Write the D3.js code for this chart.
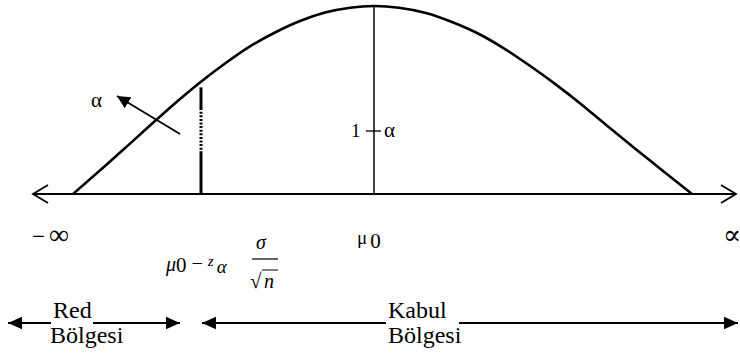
<!DOCTYPE html>
<html><head><meta charset="utf-8">
<script src="https://cdn.jsdelivr.net/npm/d3@7"></script>
<style>
html,body{margin:0;padding:0;background:#fff;}
svg{display:block;}
</style></head>
<body>
<svg id="c" width="740" height="356"></svg>
<script>
// ---- data ----
const curveX = [-3.01, -2.69, -2.50, -2.19, -1.94, -1.74, -1.49, -1.24, -0.99, -0.74, -0.49, -0.24, 0,
                0.25, 0.52, 0.78, 1.05, 1.31, 1.57, 1.84, 2.05, 2.31, 2.64, 2.84, 3.18];
const curveY = [0, 0.149, 0.239, 0.388, 0.505, 0.593, 0.694, 0.785, 0.859, 0.920, 0.965, 0.991, 1,
                0.991, 0.963, 0.915, 0.851, 0.771, 0.678, 0.574, 0.487, 0.372, 0.229, 0.144, 0];
const mu0 = 0;
const critical = -1.73;
const critTop = 0.567;
const dottedFrom = 0.457, dottedTo = 0.218;
const axisMin = -3.41, axisMax = 3.62;
const xTickLabels = ["\u2212", "\u221e", "\u03bc", "\u221d"];
const regionLabels = [["Red", "B\u00f6lgesi"], ["Kabul", "B\u00f6lgesi"]];
const alphaArrow = [[-1.94, 0.319], [-2.57, 0.521]];

const FONT = "'Liberation Serif', 'Times New Roman', 'DejaVu Serif', serif";
const svg = d3.select("#c").attr("font-family", FONT);
const x = d3.scaleLinear().domain([-3.5, 3.6]).range([24, 734]);
const y = d3.scaleLinear().domain([0, 1]).range([194, 6]);

function txt(xp, yp, size){
  return svg.append("text").attr("x", xp).attr("y", yp).attr("font-size", size)
    .attr("font-family", FONT).attr("fill", "#000");
}

// arrow markers
const defs = svg.append("defs");
defs.append("marker").attr("id","tri").attr("viewBox","0 0 10 10").attr("refX",10).attr("refY",5)
  .attr("markerWidth",13).attr("markerHeight",13).attr("markerUnits","userSpaceOnUse").attr("orient","auto")
  .append("path").attr("d","M0,0L10,5L0,10Z").attr("fill","#000");
defs.append("marker").attr("id","tri2").attr("viewBox","0 0 10 10").attr("refX",10).attr("refY",5)
  .attr("markerWidth",14).attr("markerHeight",14).attr("markerUnits","userSpaceOnUse").attr("orient","auto")
  .append("path").attr("d","M0,0.5L10,5L0,9.5Z").attr("fill","#000");

// axis line with open chevrons
const ay = y(0);
svg.append("line").attr("x1", x(axisMin)).attr("x2", x(axisMax)).attr("y1", ay).attr("y2", ay)
  .attr("stroke","#000").attr("stroke-width",1.8);
svg.append("path").attr("d", `M${x(axisMin)+15},${ay-9}L${x(axisMin)},${ay}L${x(axisMin)+15},${ay+9}`)
  .attr("fill","none").attr("stroke","#000").attr("stroke-width",1.8);
svg.append("path").attr("d", `M${x(axisMax)-15},${ay-9}L${x(axisMax)},${ay}L${x(axisMax)-15},${ay+9}`)
  .attr("fill","none").attr("stroke","#000").attr("stroke-width",1.8);

// curve
const pts = curveX.map((d,i)=>[d, curveY[i]]);
svg.append("path").datum(pts)
  .attr("d", d3.line().x(d=>x(d[0])).y(d=>y(d[1])).curve(d3.curveMonotoneX))
  .attr("fill","none").attr("stroke","#000").attr("stroke-width",2.6);

// mu0 vertical
svg.append("line").attr("x1",x(mu0)).attr("x2",x(mu0)).attr("y1",y(0)).attr("y2",y(1))
  .attr("stroke","#000").attr("stroke-width",1.5);

// critical line
svg.append("line").attr("x1",x(critical)).attr("x2",x(critical)).attr("y1",y(critTop)).attr("y2",y(dottedFrom))
  .attr("stroke","#000").attr("stroke-width",3);
svg.append("line").attr("x1",x(critical)).attr("x2",x(critical)).attr("y1",y(dottedFrom)).attr("y2",y(dottedTo))
  .attr("stroke","#000").attr("stroke-width",3).attr("stroke-dasharray","2,1.6");
svg.append("line").attr("x1",x(critical)).attr("x2",x(critical)).attr("y1",y(dottedTo)).attr("y2",y(0))
  .attr("stroke","#000").attr("stroke-width",3);

// alpha arrow
svg.append("line").attr("x1",x(alphaArrow[0][0])).attr("y1",y(alphaArrow[0][1]))
  .attr("x2",x(alphaArrow[1][0])).attr("y2",y(alphaArrow[1][1]))
  .attr("stroke","#000").attr("stroke-width",1.8).attr("marker-end","url(#tri)");
txt(91, 107, 21).text("\u03b1");

// 1 - alpha
txt(351, 137, 19).text("1");
svg.append("line").attr("x1",366).attr("x2",381).attr("y1",131).attr("y2",131).attr("stroke","#000").attr("stroke-width",1.3);
txt(384, 137, 21).text("\u03b1");

// tick labels
const ninf = txt(32, 244, 23);
ninf.append("tspan").text(xTickLabels[0]);
ninf.append("tspan").attr("dx",4).attr("font-size",28).text(xTickLabels[1]);
const mu = txt(357, 244, 19);
mu.append("tspan").text(xTickLabels[2]);
mu.append("tspan").attr("dy",4).attr("dx",3).attr("font-size",21).text("0");
txt(723, 244, 27).text(xTickLabels[3]);

// formula
const f = txt(166, 271, 20);
f.append("tspan").attr("font-style","italic").text("\u03bc");
f.append("tspan").attr("dy",1).attr("font-size",21).text("0");
f.append("tspan").attr("dy",-2).attr("dx",5).text("\u2212");
f.append("tspan").attr("dx",5).attr("dy",-4).attr("font-style","italic").attr("font-size",15).text("z");
f.append("tspan").attr("dx",3).attr("dy",7).attr("font-style","italic").attr("font-size",19).text("\u03b1");
txt(256, 249, 20).attr("font-style","italic").text("\u03c3");
svg.append("line").attr("x1",252).attr("x2",278).attr("y1",259).attr("y2",259).attr("stroke","#000").attr("stroke-width",1.2);
txt(250, 288, 21).text("\u221a");
svg.append("line").attr("x1",262).attr("x2",278).attr("y1",270).attr("y2",270).attr("stroke","#000").attr("stroke-width",1);
txt(264, 288, 20).attr("font-style","italic").text("n");

// bottom region arrows
const ry = 323;
function arrow(x1,x2){
  svg.append("line").attr("x1",x1).attr("x2",x2).attr("y1",ry).attr("y2",ry)
    .attr("stroke","#000").attr("stroke-width",1.8).attr("marker-end","url(#tri2)");
}
arrow(51, 8);
arrow(93, 180);
arrow(386, 202);
arrow(459, 738);
txt(53, 318, 24).text(regionLabels[0][0]);
txt(50, 343, 24).text(regionLabels[0][1]);
txt(388, 318, 24).text(regionLabels[1][0]);
txt(388, 343, 24).text(regionLabels[1][1]);
</script>
</body></html>
